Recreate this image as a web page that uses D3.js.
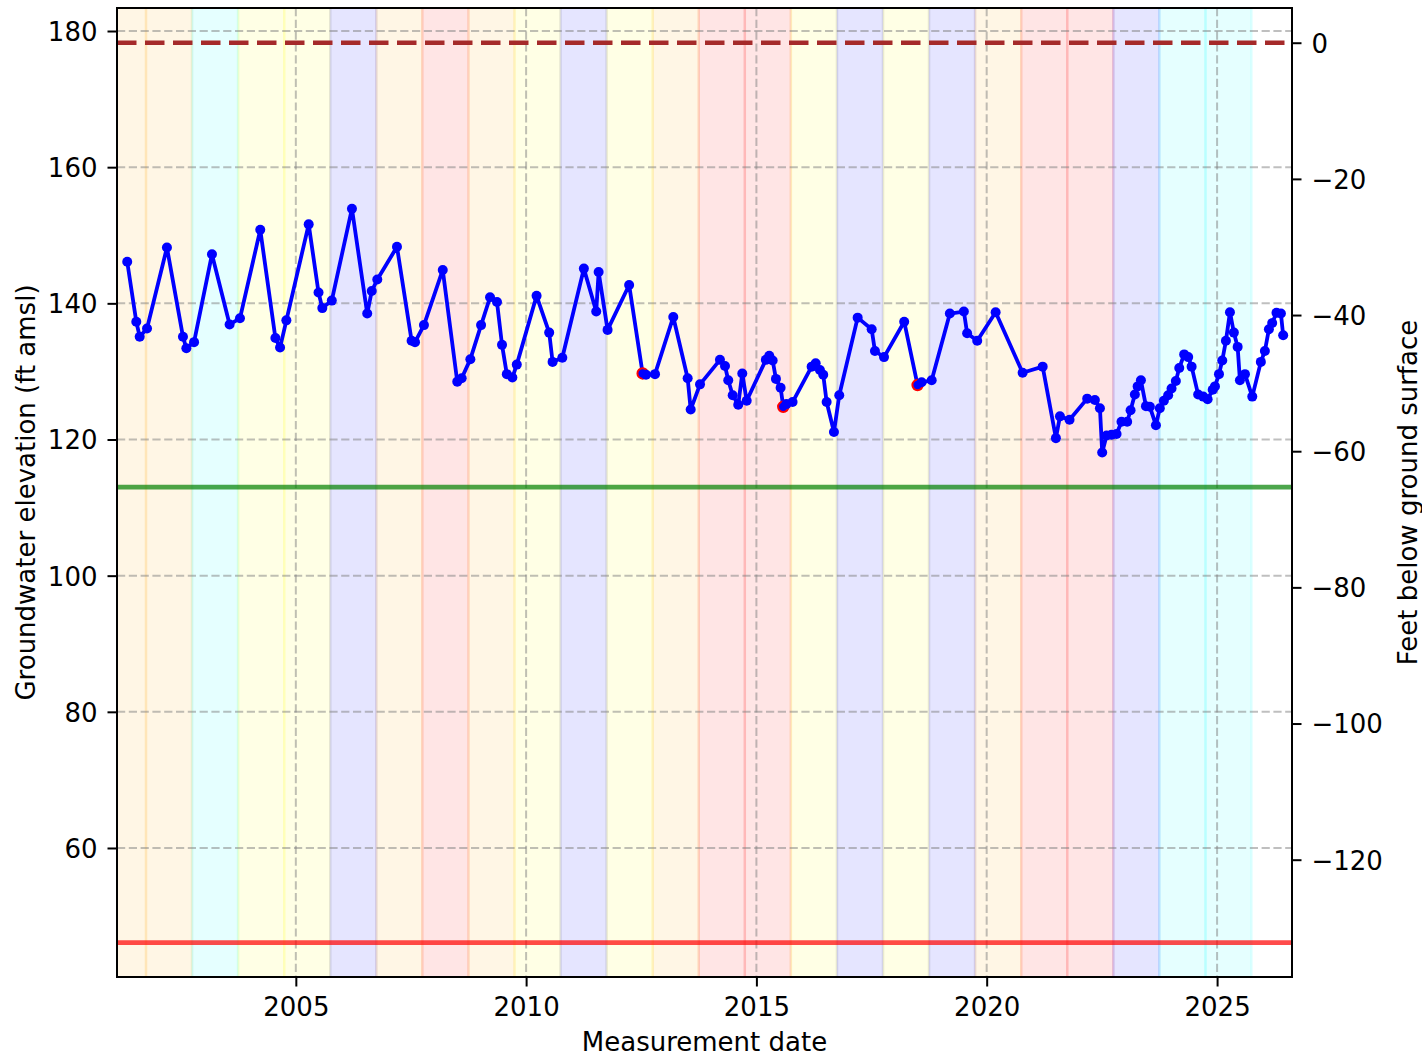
<!DOCTYPE html>
<html>
<head>
<meta charset="utf-8">
<script src="https://cdn.jsdelivr.net/npm/d3@7"></script>
<style>
  html, body { margin: 0; padding: 0; background: #fff; }
  svg { display: block; }
  text { font-family: "DejaVu Sans", sans-serif; fill: #000; }
</style>
</head>
<body>
<svg id="chart" width="1422" height="1056"></svg>
<script>
// Groundwater elevation measurements (ft amsl)
const measurementDates = [
  "2001-05-05","2001-07-16","2001-08-12","2001-10-09","2002-03-16","2002-07-21","2002-08-17","2002-10-17",
  "2003-03-08","2003-07-26","2003-10-16","2004-03-25","2004-07-23","2004-08-29","2004-10-18","2005-04-13",
  "2005-06-30","2005-07-30","2005-10-13","2006-03-22","2006-07-21","2006-08-26","2006-10-09","2007-03-14",
  "2007-07-08","2007-08-04","2007-10-14","2008-03-11","2008-07-04","2008-08-08","2008-10-16","2009-01-09",
  "2009-03-21","2009-05-15","2009-06-24","2009-08-01","2009-09-14","2009-10-19","2010-03-25","2010-07-03",
  "2010-07-30","2010-10-15","2011-04-04","2011-07-11","2011-07-30","2011-10-09","2012-03-28","2012-07-13",
  "2012-08-09","2012-10-19","2013-03-13","2013-07-05","2013-07-29","2013-10-11","2014-03-18","2014-04-27",
  "2014-05-23","2014-06-27","2014-08-10","2014-09-11","2014-10-16","2015-03-17","2015-04-13","2015-05-10",
  "2015-06-05","2015-07-12","2015-08-02","2015-08-27","2015-10-15","2016-03-14","2016-04-15","2016-05-19",
  "2016-06-14","2016-07-11","2016-09-07","2016-10-19","2017-03-14","2017-07-03","2017-07-29","2017-10-09",
  "2018-03-18","2018-07-02","2018-08-03","2018-10-22","2019-03-15","2019-07-04","2019-07-30","2019-10-18",
  "2020-03-12","2020-10-12","2021-03-20","2021-07-03","2021-08-04","2021-10-19","2022-03-08","2022-05-08",
  "2022-06-17","2022-07-05","2022-08-09","2022-09-17","2022-10-27","2022-12-05","2023-01-19","2023-02-15",
  "2023-03-21","2023-04-12","2023-05-08","2023-06-17","2023-07-18","2023-09-04","2023-10-05","2023-11-06",
  "2023-12-10","2024-01-06","2024-02-09","2024-03-07","2024-04-15","2024-05-17","2024-06-13","2024-08-04",
  "2024-09-13","2024-10-18","2024-11-27","2024-12-15","2025-01-16","2025-02-11","2025-03-12","2025-04-13",
  "2025-05-14","2025-06-13","2025-07-01","2025-08-10","2025-10-07","2025-12-14","2026-01-15","2026-02-16",
  "2026-03-14","2026-04-17","2026-05-22","2026-06-09"
];
const elevations = [
  146.1,137.3,135.1,136.3,148.2,135.1,133.4,134.3,
  147.2,136.9,137.8,150.8,134.9,133.5,137.5,151.6,
  141.6,139.3,140.4,153.9,138.5,141.8,143.5,148.3,
  134.5,134.3,136.8,144.9,128.5,129.0,131.8,136.8,
  140.9,140.2,133.9,129.6,129.1,131.0,141.1,135.7,
  131.4,132.0,145.1,138.8,144.6,136.1,142.7,129.7,
  129.5,129.6,138.0,129.0,124.4,128.1,131.7,130.8,
  128.7,126.5,125.1,129.7,125.7,131.7,132.3,131.6,
  128.9,127.6,124.8,125.2,125.5,130.7,131.2,130.2,
  129.5,125.5,121.1,126.5,137.9,136.2,133.0,132.1,
  137.3,128.0,128.4,128.7,138.5,138.8,135.6,134.5,
  138.7,129.8,130.7,120.2,123.4,122.9,126.0,125.8,
  124.6,118.1,120.6,120.7,120.8,122.6,122.6,124.3,
  126.6,127.8,128.7,124.9,124.8,122.1,124.6,125.7,
  126.5,127.5,128.6,130.5,132.5,132.1,130.7,126.6,
  126.3,125.9,127.3,127.8,129.6,131.6,134.5,138.7,
  135.7,133.6,128.7,129.6,126.3,131.4,133.0,136.2,
  137.1,138.6,138.5,135.3
];
// Measurements flagged as questionable (drawn with a red outline)
const flaggedDates = ["2012-07-13", "2015-08-02", "2018-07-02"];

// Water-year classification (Oct 1 – Sep 30), shaded behind the hydrograph
const waterYears = [2001,2002,2003,2004,2005,2006,2007,2008,2009,2010,2011,2012,2013,
                    2014,2015,2016,2017,2018,2019,2020,2021,2022,2023,2024,2025];
const waterYearTypes = ["BN","BN","AN","AN2","AN2","W","BN","C","BN","AN2","W","AN2","BN",
                        "C","C","AN2","W","AN2","W","BN","C","C","W","AN","AN"];
const typeColors = { W: "blue", AN: "cyan", AN2: "yellow", BN: "orange", C: "red" };

// Reference elevations
const groundSurface = 178.28;   // land surface elevation (ft amsl)
const greenThreshold = 113.0;
const redThreshold = 46.1;

const leftTicks = [60, 80, 100, 120, 140, 160, 180];
const rightTicks = [-120, -100, -80, -60, -40, -20, 0];
const xTickYears = [2005, 2010, 2015, 2020, 2025];

const parse = d3.timeParse("%Y-%m-%d");
const data = measurementDates.map((d, i) => ({ date: parse(d), value: elevations[i], flagged: flaggedDates.includes(d) }));

const W = 1422, H = 1056;
const margin = { left: 117, top: 8, right: 130, bottom: 79 };
const pw = W - margin.left - margin.right;
const ph = H - margin.top - margin.bottom;

const svg = d3.select("#chart");
const g = svg.append("g").attr("transform", `translate(${margin.left},${margin.top})`);

const x = d3.scaleTime()
  .domain([new Date(2001, 1, 13), new Date(2026, 7, 18)])
  .range([0, pw]);
const y = d3.scaleLinear().domain([41.05, 183.38]).range([ph, 0]);
const yRight = d3.scaleLinear().domain([41.05 - groundSurface, 183.38 - groundSurface]).range([ph, 0]);

const defs = svg.append("defs");
defs.append("clipPath").attr("id", "plot-clip")
  .append("rect").attr("width", pw).attr("height", ph);

const plot = g.append("g").attr("clip-path", "url(#plot-clip)");

// Water-year bands
plot.append("g").selectAll("rect")
  .data(waterYears.map((wy, i) => ({ wy, type: waterYearTypes[i] })))
  .join("rect")
  .attr("x", d => x(new Date(d.wy - 1, 9, 1)))
  .attr("width", d => x(new Date(d.wy, 9, 1)) - x(new Date(d.wy - 1, 9, 1)))
  .attr("y", -5)
  .attr("height", ph + 10)
  .attr("fill", d => typeColors[d.type])
  .attr("fill-opacity", 0.1)
  .attr("stroke", d => typeColors[d.type])
  .attr("stroke-opacity", 0.1)
  .attr("stroke-width", 2.5);

// Grid
const grid = plot.append("g")
  .attr("stroke", "rgba(128,128,128,0.5)")
  .attr("stroke-width", 2)
  .attr("stroke-dasharray", "8.2 3.6");
grid.selectAll("line.h").data(leftTicks).join("line")
  .attr("class", "h")
  .attr("x1", 0).attr("x2", pw)
  .attr("y1", d => y(d)).attr("y2", d => y(d));
grid.selectAll("line.v").data(xTickYears).join("line")
  .attr("class", "v")
  .attr("y1", 0).attr("y2", ph)
  .attr("x1", d => x(new Date(d, 0, 1))).attr("x2", d => x(new Date(d, 0, 1)));

// Reference lines
plot.append("line")
  .attr("x1", 0).attr("x2", pw)
  .attr("y1", y(greenThreshold)).attr("y2", y(greenThreshold))
  .attr("stroke", "green").attr("stroke-opacity", 0.7).attr("stroke-width", 4.6);
plot.append("line")
  .attr("x1", 0).attr("x2", pw)
  .attr("y1", y(redThreshold)).attr("y2", y(redThreshold))
  .attr("stroke", "red").attr("stroke-opacity", 0.7).attr("stroke-width", 4.6);

// Hydrograph
const line = d3.line().x(d => x(d.date)).y(d => y(d.value));
plot.append("path")
  .datum(data)
  .attr("d", line)
  .attr("fill", "none")
  .attr("stroke", "#0000ff")
  .attr("stroke-width", 3.8)
  .attr("stroke-linejoin", "round");
plot.append("g").selectAll("circle")
  .data(data)
  .join("circle")
  .attr("cx", d => x(d.date))
  .attr("cy", d => y(d.value))
  .attr("r", d => d.flagged ? 5.2 : 5.0)
  .attr("fill", "#0000ff")
  .attr("stroke", d => d.flagged ? "red" : "none")
  .attr("stroke-width", 2);

// Ground surface
plot.append("line")
  .attr("x1", 0).attr("x2", pw)
  .attr("y1", y(groundSurface)).attr("y2", y(groundSurface))
  .attr("stroke", "#a52a2a").attr("stroke-width", 4.6)
  .attr("stroke-dasharray", "19.5 8.5");

// Axes
const fontSize = 26;
const styleAxis = sel => {
  sel.select(".domain").remove();
  sel.selectAll(".tick line").attr("stroke", "#000").attr("stroke-width", 2);
  sel.selectAll(".tick text").attr("font-size", fontSize).attr("font-family", '"DejaVu Sans", sans-serif').attr("fill", "#000");
};

const xAxis = g.append("g")
  .attr("transform", `translate(0,${ph})`)
  .call(d3.axisBottom(x)
    .tickValues(xTickYears.map(yr => new Date(yr, 0, 1)))
    .tickFormat(d3.timeFormat("%Y"))
    .tickSize(9.5).tickPadding(10));
styleAxis(xAxis);
xAxis.selectAll(".tick text").attr("dy", null).attr("y", 39);

const yAxis = g.append("g")
  .call(d3.axisLeft(y).tickValues(leftTicks).tickFormat(d3.format("d")).tickSize(9.5).tickPadding(10));
styleAxis(yAxis);
yAxis.selectAll(".tick text").attr("dy", "0.36em");

const yAxisR = g.append("g")
  .attr("transform", `translate(${pw},0)`)
  .call(d3.axisRight(yRight).tickValues(rightTicks).tickFormat(d => d < 0 ? "\u2212" + Math.abs(d) : String(d)).tickSize(9.5).tickPadding(10));
styleAxis(yAxisR);
yAxisR.selectAll(".tick text").attr("dy", "0.36em");

// Frame
g.append("rect")
  .attr("width", pw).attr("height", ph)
  .attr("fill", "none").attr("stroke", "#000").attr("stroke-width", 2);

// Axis titles
svg.append("text")
  .attr("x", margin.left + pw / 2).attr("y", 1051)
  .attr("text-anchor", "middle").attr("font-size", fontSize)
  .text("Measurement date");
svg.append("text")
  .attr("transform", `translate(35,${margin.top + ph / 2}) rotate(-90)`)
  .attr("text-anchor", "middle").attr("font-size", fontSize)
  .text("Groundwater elevation (ft amsl)");
svg.append("text")
  .attr("transform", `translate(1417,${margin.top + ph / 2}) rotate(-90)`)
  .attr("text-anchor", "middle").attr("font-size", fontSize)
  .text("Feet below ground surface");
</script>
</body>
</html>
